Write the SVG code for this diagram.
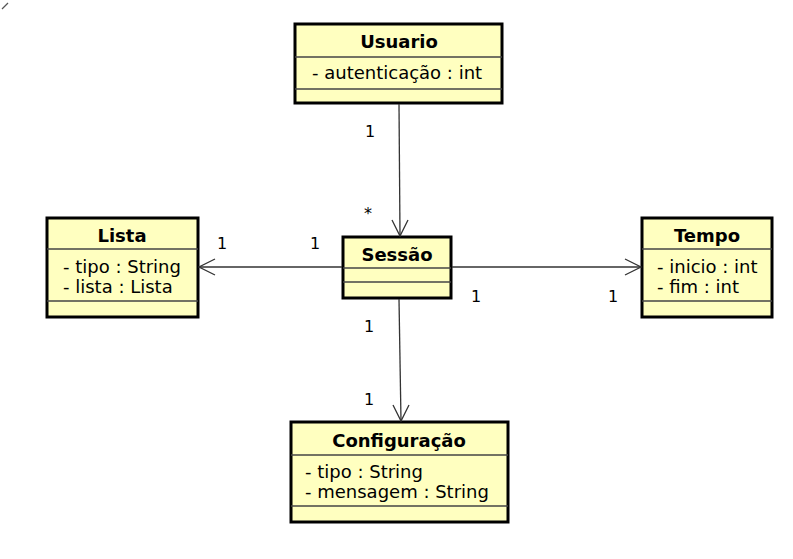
<svg xmlns="http://www.w3.org/2000/svg" width="793" height="559" viewBox="0 0 793 559">
<style>
.box{fill:#ffffc0;stroke:#000;stroke-width:3}
.div{stroke:#444;stroke-width:1.5}
.hd{font-family:"DejaVu Sans",sans-serif;font-weight:bold;font-size:18px;text-anchor:middle;fill:#000}
.at{font-family:"DejaVu Sans",sans-serif;font-size:18px;fill:#000}
.lb{font-family:"DejaVu Sans",sans-serif;font-size:16px;fill:#000}
.cn{stroke:#333;stroke-width:1.3;fill:none}
</style>
<rect width="793" height="559" fill="#fff"/>
<line x1="2" y1="9" x2="8" y2="3" stroke="#555" stroke-width="1.3"/>
<g id="Usuario">
<rect class="box" x="295" y="24" width="207" height="79"/>
<line class="div" x1="295" y1="57" x2="502" y2="57"/>
<line class="div" x1="295" y1="89" x2="502" y2="89"/>
<text class="hd" x="399" y="48">Usuario</text>
<text class="at" x="312" y="79">- autenticação : int</text>
</g>
<g id="Lista">
<rect class="box" x="47" y="218" width="151" height="99"/>
<line class="div" x1="47" y1="249" x2="198" y2="249"/>
<line class="div" x1="47" y1="301" x2="198" y2="301"/>
<text class="hd" x="122" y="242">Lista</text>
<text class="at" x="63" y="273">- tipo : String</text>
<text class="at" x="63" y="293">- lista : Lista</text>
</g>
<g id="Sessao">
<rect class="box" x="343" y="237" width="108" height="61"/>
<line class="div" x1="343" y1="268" x2="451" y2="268"/>
<line class="div" x1="343" y1="282" x2="451" y2="282"/>
<text class="hd" x="397" y="261">Sessão</text>
</g>
<g id="Tempo">
<rect class="box" x="642" y="218" width="130" height="99"/>
<line class="div" x1="642" y1="249" x2="772" y2="249"/>
<line class="div" x1="642" y1="301" x2="772" y2="301"/>
<text class="hd" x="707" y="242">Tempo</text>
<text class="at" x="657" y="273">- inicio : int</text>
<text class="at" x="657" y="293">- fim : int</text>
</g>
<g id="Configuracao">
<rect class="box" x="291" y="422" width="217" height="100"/>
<line class="div" x1="291" y1="455" x2="508" y2="455"/>
<line class="div" x1="291" y1="506" x2="508" y2="506"/>
<text class="hd" x="399" y="447">Configuração</text>
<text class="at" x="305" y="478">- tipo : String</text>
<text class="at" x="305" y="498">- mensagem : String</text>
</g>
<g id="connectors">
<path class="cn" d="M399 104 L400 236"/>
<path class="cn" d="M392 220 L400 236 L408 220"/>
<path class="cn" d="M342 267 L199 267"/>
<path class="cn" d="M215 259 L199 267 L215 275"/>
<path class="cn" d="M452 267 L641 267"/>
<path class="cn" d="M625 259 L641 267 L625 275"/>
<path class="cn" d="M399 299 L401 421"/>
<path class="cn" d="M393 405 L401 421 L409 405"/>
</g>
<g id="labels">
<text class="lb" x="365" y="137">1</text>
<text class="lb" x="364" y="219">*</text>
<text class="lb" x="217" y="249">1</text>
<text class="lb" x="310" y="249">1</text>
<text class="lb" x="471" y="302">1</text>
<text class="lb" x="608" y="302">1</text>
<text class="lb" x="364" y="332">1</text>
<text class="lb" x="364" y="405">1</text>
</g>
</svg>
